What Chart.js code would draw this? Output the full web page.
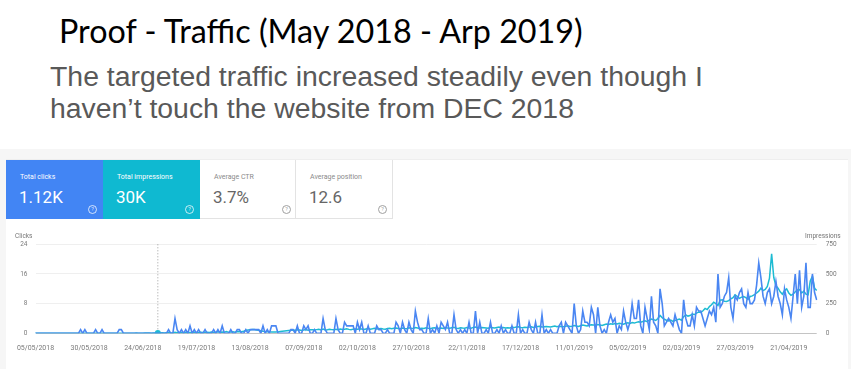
<!DOCTYPE html>
<html>
<head>
<meta charset="utf-8">
<script src="https://cdn.jsdelivr.net/npm/chart.js@4.4.0/dist/chart.umd.min.js"></script>
<style>
  body { margin: 0; width: 851px; height: 369px; background: #fff; position: relative; overflow: hidden; }
  #title { position: absolute; left: 59px; top: 14.5px; font: 32.3px/32px Lato, sans-serif; color: #000; white-space: nowrap; }
  #sub { position: absolute; left: 50px; top: 60px; font: 28.4px/32px "Liberation Sans", Arial, sans-serif; color: #595959; white-space: nowrap; }
  #panel { position: absolute; left: 0; top: 149px; width: 851px; height: 220px; background: #f6f6f6; }
  #card { position: absolute; left: 6px; top: 10px; width: 842px; height: 210px; background: #fff; border-top: 1px solid #eeeeee; }
  .tile { position: absolute; top: 0; height: 59px; font-family: Roboto, sans-serif; box-sizing: border-box; }
  .tile .lbl { position: absolute; left: 14px; top: 13px; font-size: 7px; line-height: 8px; }
  .tile .val { position: absolute; left: 13px; top: 29px; font-size: 17px; line-height: 17px; }
  .tile .q { position: absolute; left: 82px; top: 45px; width: 7px; height: 7px; border-radius: 50%; font-size: 5.5px; line-height: 7px; text-align: center; }
  .dark { color: #fff; }
  .dark .q { border: 1px solid rgba(255,255,255,0.75); color: rgba(255,255,255,0.85); }
  .light { border-right: 1px solid #e3e3e3; border-bottom: 1px solid #e3e3e3; }
  .light .lbl { color: #8a8a8a; }
  .light .val { color: #666; }
  .light .q { border: 1px solid #a0a0a0; color: #a0a0a0; }
  #chartBox { position: absolute; left: 0; top: 230px; width: 851px; height: 130px; }
  .axisName { position: absolute; top: 232px; font: 6.5px Roboto, sans-serif; color: #757575; }
</style>
</head>
<body>
<div id="title">Proof - Traffic (May 2018 - Arp 2019)</div>
<div id="sub">The targeted traffic increased steadily even though I<br>haven’t touch the website from DEC 2018</div>
<div id="panel">
  <div id="card">
    <div class="tile dark" style="left:0;width:97px;background:#4285f4"><div class="lbl">Total clicks</div><div class="val">1.12K</div><div class="q">?</div></div>
    <div class="tile dark" style="left:97px;width:97px;background:#0fb9d1"><div class="lbl">Total impressions</div><div class="val">30K</div><div class="q">?</div></div>
    <div class="tile light" style="left:194px;width:96px"><div class="lbl">Average CTR</div><div class="val">3.7%</div><div class="q">?</div></div>
    <div class="tile light" style="left:290px;width:97px"><div class="lbl">Average position</div><div class="val">12.6</div><div class="q">?</div></div>
  </div>
</div>
<div id="chartBox"><canvas id="trafficChart" width="851" height="130"></canvas></div>
<div class="axisName" style="left:15px">Clicks</div>
<div class="axisName" style="left:805px">Impressions</div>

<script>
// one value per day, starting 05/05/2018
const startDate = [2018, 4, 5];
const tickLabels = ['05/05/2018', '30/05/2018', '24/06/2018', '19/07/2018', '13/08/2018',
  '07/09/2018', '02/10/2018', '27/10/2018', '22/11/2018', '17/12/2018',
  '11/01/2019', '05/02/2019', '02/03/2019', '27/03/2019', '21/04/2019'];
const hoverIndex = 57; // 01/07/2018, where the mouse sits in the screenshot

const clicks = [
  0,0,0,0,0,0,0,0,0,0, 0,0,0,0,0,0,0,0,0,0,
  0,1,0,1,0,0,0,0,1,0, 0,1,0,0,0,0,0,0,0,1,
  1,0,0,0,0,0,0,0,0,0, 0,0,0,0,0,0,0,0,0,0,
  0,0,1,0,0,4,1,0,1,0, 1,0,2,0,1,0,1,0,0,1,
  0,0,0,1,0,1,0,2,0,0, 0,1,0,0,1,1,0,0,1,0,
  1,1,1,1,1,0,2,0,1,0, 2,2,2,0,0,0,0,0,0,1,
  1,0,2,0,0,2,1,2,0,0, 1,0,0,0,4,1,0,0,0,0,
  4,1,0,0,3,2,2,2,2,0, 3,1,3,0,0,2,0,0,0,2,
  1,1,0,0,1,0,0,0,3,2, 0,3,1,0,3,1,0,6,3,1,
  1,0,0,4,0,1,0,2,0,3, 2,1,3,0,0,5,1,0,1,0,
  1,0,3,0,0,6,0,3,0,0, 1,0,3,0,0,1,0,2,0,1,
  0,0,2,0,0,5,0,1,0,0, 3,1,0,3,0,0,5,0,1,0,
  1,0,0,0,2,3,0,3,2,1, 0,8,2,0,1,6,3,3,2,7,
  5,0,7,2,0,1,0,3,5,3, 4,0,2,1,6,3,1,3,8,4,
  4,9,2,0,7,4,1,10,3,2, 0,12,8,2,3,4,3,2,5,3,
  1,0,9,4,2,2,5,2,7,6, 6,4,2,4,6,5,7,3,16,7,
  8,10,11,15,7,4,10,9,11,12, 8,7,11,8,8,9,13,19,15,10,
  8,11,12,8,10,14,10,8,5,12, 9,7,4,10,16,8,17,7,10,19,
  7,7,16,11,9
];

const impressions = [
  0,0,0,0,0,0,0,0,0,0, 0,0,0,0,0,0,0,0,0,0,
  0,0,0,0,0,0,0,0,0,0, 0,0,0,0,0,0,0,0,0,0,
  0,0,0,0,0,1,0,2,1,0, 1,2,3,2,1,3,2,3,2,4,
  3,5,6,4,3,8,5,4,6,5, 6,4,7,5,8,6,5,9,7,6,
  8,6,10,7,9,12,8,11,9,14, 8,10,12,9,14,16,13,18,24,28,
  30,31,32,28,26,22,18,15,13,12, 11,11,10,12,15,18,20,22,24,26,
  28,25,30,27,24,28,32,26,30,29, 27,31,33,29,35,28,30,34,31,29,
  33,30,36,32,35,38,33,30,35,37, 34,39,36,33,37,40,35,38,42,36,
  39,41,37,35,40,43,38,42,45,40, 38,44,41,39,46,42,40,48,45,41,
  43,40,46,42,39,44,47,41,43,45, 40,48,44,42,46,50,43,41,47,44,
  42,48,45,43,50,52,46,44,49,47, 45,43,50,47,44,48,52,46,49,45,
  47,44,50,48,53,55,49,46,51,48, 52,55,50,54,57,60,53,55,58,56,
  54,58,62,56,60,57,55,59,63,58, 60,66,62,58,64,70,66,62,68,72,
  70,68,74,70,66,72,78,75,80,76, 82,78,85,80,76,84,88,82,90,86,
  92,98,94,100,105,98,110,120,115,108, 125,150,132,118,110,105,112,100,108,115,
  120,110,140,155,145,150,162,158,170,180, 175,190,210,200,225,240,262,250,235,280,
  283,270,268,275,290,300,325,310,295,305, 310,300,285,310,315,325,340,355,380,360,
  370,395,465,670,470,400,380,350,330,360, 375,340,320,330,350,365,368,340,355,330,
  325,440,481,380,360
];

function pad(n) { return n < 10 ? '0' + n : '' + n; }
const labels = clicks.map((_, i) => {
  const d = new Date(Date.UTC(startDate[0], startDate[1], startDate[2] + i));
  return pad(d.getUTCDate()) + '/' + pad(d.getUTCMonth() + 1) + '/' + d.getUTCFullYear();
});

const hoverLine = {
  id: 'hoverLine',
  beforeDatasetsDraw(chart) {
    const x = chart.scales.x.getPixelForValue(hoverIndex);
    const ctx = chart.ctx;
    ctx.save();
    ctx.strokeStyle = '#9e9e9e';
    ctx.lineWidth = 1;
    ctx.setLineDash([1, 2]);
    ctx.beginPath();
    ctx.moveTo(x, chart.chartArea.top);
    ctx.lineTo(x, chart.chartArea.bottom);
    ctx.stroke();
    ctx.restore();
  }
};

const tickFont = { family: 'Roboto', size: 6.5 };

new Chart(document.getElementById('trafficChart'), {
  type: 'line',
  data: {
    labels: labels,
    datasets: [{
      label: 'Clicks',
      data: clicks,
      yAxisID: 'y',
      borderColor: '#4a86f2',
      borderWidth: 1.6,
      pointRadius: 0,
      tension: 0
    }, {
      label: 'Impressions',
      data: impressions,
      yAxisID: 'y1',
      borderColor: '#1dbbd2',
      borderWidth: 1.5,
      pointRadius: ctx => ctx.dataIndex === hoverIndex ? 3 : 0,
      pointBackgroundColor: '#1dbbd2',
      pointBorderWidth: 0,
      tension: 0
    }]
  },
  options: {
    responsive: false,
    animation: false,
    layout: { padding: { top: 14.3 } },
    plugins: { legend: { display: false }, tooltip: { enabled: false } },
    scales: {
      x: {
        grid: { display: false },
        border: { display: false },
        ticks: {
          autoSkip: false,
          maxRotation: 0,
          minRotation: 0,
          padding: 3,
          color: '#7a7a7a',
          font: { family: 'Roboto', size: 7 },
          callback: (v, i) => tickLabels.includes(labels[i]) ? labels[i] : ''
        },
        afterFit: s => { s.height = 26.7; }
      },
      y: {
        position: 'left',
        min: 0,
        max: 24,
        grid: {
          color: c => c.tick.value === 0 ? '#c4c4c4' : '#efefef',
          drawTicks: false
        },
        border: { display: false },
        ticks: { stepSize: 8, padding: 8, color: '#7a7a7a', font: tickFont },
        afterFit: s => { s.width = 35.5; }
      },
      y1: {
        position: 'right',
        min: 0,
        max: 750,
        grid: { drawOnChartArea: false, drawTicks: false },
        border: { display: false },
        ticks: { stepSize: 250, padding: 9, color: '#7a7a7a', font: tickFont },
        afterFit: s => { s.width = 34.3; }
      }
    }
  },
  plugins: [hoverLine]
});
</script>
</body>
</html>
